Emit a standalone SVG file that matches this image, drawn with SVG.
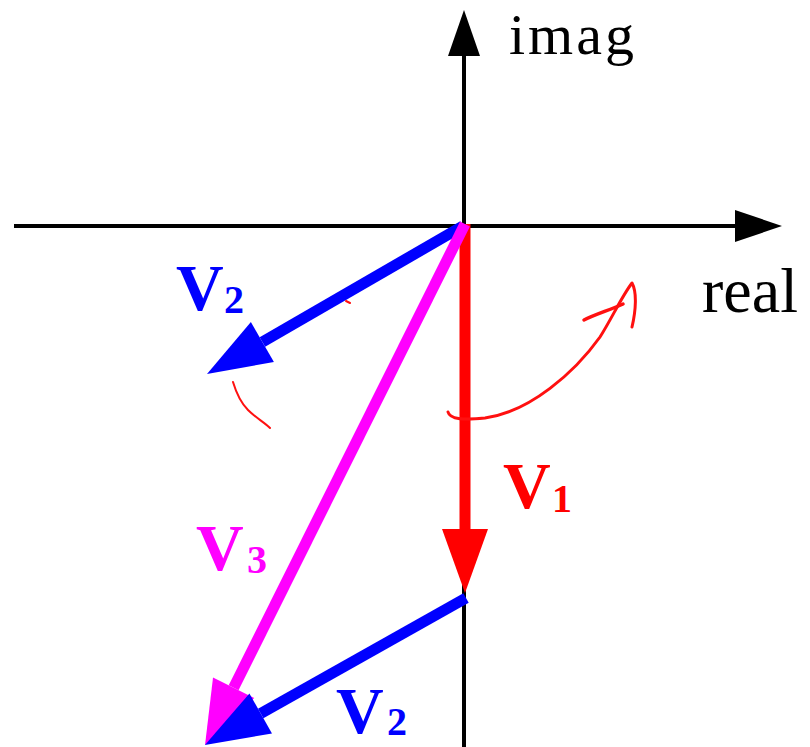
<svg xmlns="http://www.w3.org/2000/svg" width="810" height="747" viewBox="0 0 810 747">
<style>
.axis{stroke:#000;stroke-width:4;fill:none}
.lbl{font-family:"Liberation Serif","Times New Roman",serif;font-weight:bold}
.sub{font-family:"Liberation Serif","Times New Roman",serif;font-weight:bold;font-size:40px}
.axl{font-family:"Liberation Serif","Times New Roman",serif;fill:#000}
.hand{fill:none;stroke:#ff1010;stroke-linecap:round;stroke-linejoin:round}
</style>
<defs>
<marker id="hb" markerUnits="userSpaceOnUse" markerWidth="66" markerHeight="48" refX="0" refY="23" orient="auto" overflow="visible"><path d="M0,0 L64,23 L0,46 z" fill="#0000ff"/></marker>
<marker id="hr" markerUnits="userSpaceOnUse" markerWidth="66" markerHeight="48" refX="0" refY="23" orient="auto" overflow="visible"><path d="M0,0 L64,23 L0,46 z" fill="#ff0000"/></marker>
<marker id="hm" markerUnits="userSpaceOnUse" markerWidth="66" markerHeight="48" refX="0" refY="23" orient="auto" overflow="visible"><path d="M0,0 L64,23 L0,46 z" fill="#ff00ff"/></marker>
</defs>
<rect width="810" height="747" fill="#fff"/>
<g id="axes">
<line class="axis" x1="14" y1="226" x2="740" y2="226"/>
<polygon points="735,210 782,226 735,242" fill="#000"/>
<line class="axis" x1="464" y1="50" x2="464" y2="747"/>
<polygon points="448,56 464,10 480,56" fill="#000"/>
<text class="axl" x="509" y="54" font-size="58" letter-spacing="3">imag</text>
<text class="axl" x="702" y="312" font-size="64">real</text>
</g>
<g id="connectors">
<line id="v2a" x1="463" y1="226" x2="262.4" y2="342" stroke="#0000ff" stroke-width="11" marker-end="url(#hb)"/>
<line id="v1" x1="465" y1="224" x2="465" y2="529" stroke="#ff0000" stroke-width="11" marker-end="url(#hr)"/>
<line id="v3" x1="465" y1="224" x2="233.6" y2="687.7" stroke="#ff00ff" stroke-width="11" marker-end="url(#hm)"/>
<line id="v2b" x1="466" y1="598" x2="260.7" y2="713.5" stroke="#0000ff" stroke-width="11" marker-end="url(#hb)"/>
</g>
<g id="annotations">
<path class="hand" stroke-width="3" d="M448,412 C450,420 465,420 485,418 C530,412 575,372 600,337 C612,318 622,296 632,283 C637,292 636,310 632,327"/>
<path class="hand" stroke-width="3.5" d="M584,320 C596,314 610,310 623,304"/>
<path class="hand" stroke-width="2" d="M233,382 C236,392 240,402 248,410 C256,418 264,422 270,428"/>
<path class="hand" stroke-width="2" d="M346,301 L350,303"/>
</g>
<g id="label-v2-top"><text class="lbl" x="176" y="310" font-size="66" fill="#0000ff">V</text><text class="sub" x="224" y="313" fill="#0000ff">2</text></g>
<g id="label-v1"><text class="lbl" x="503" y="508" font-size="66" fill="#ff0000">V</text><text class="sub" x="552" y="512" fill="#ff0000">1</text></g>
<g id="label-v3"><text class="lbl" x="196" y="570" font-size="66" fill="#ff00ff">V</text><text class="sub" x="247" y="573" fill="#ff00ff">3</text></g>
<g id="label-v2-bottom"><text class="lbl" x="336" y="733" font-size="66" fill="#0000ff">V</text><text class="sub" x="387" y="735" fill="#0000ff">2</text></g>
</svg>
